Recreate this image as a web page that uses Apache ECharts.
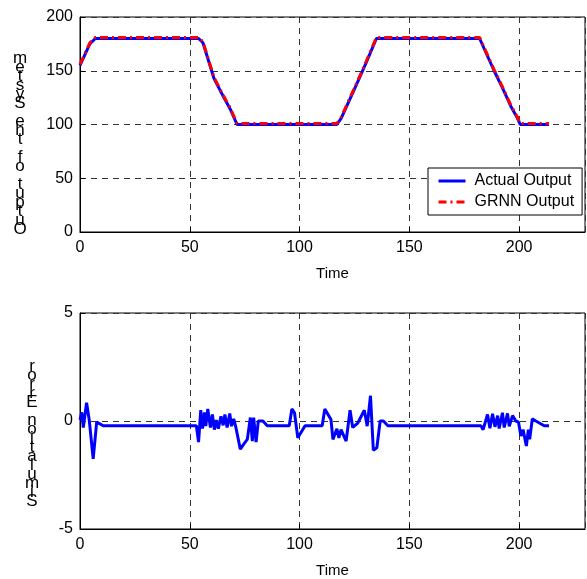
<!DOCTYPE html>
<html>
<head>
<meta charset="utf-8">
<script src="https://cdn.jsdelivr.net/npm/echarts@6/dist/echarts.min.js"></script>
<style>
  html, body { margin: 0; padding: 0; background: #fff; }
  #chart { width: 587px; height: 579px; }
</style>
</head>
<body>
<div id="chart"></div>
<script>
// Top panel: trapezoid trajectory, breakpoints
const outTime = [0, 4.5, 7, 54, 56, 61, 64, 68.5, 71.5, 117, 119, 125, 130, 135, 182, 188.6, 192.4, 196.2, 199.2, 200.5, 213.6];
const actualOut = [155, 175, 180, 180, 176, 143, 131, 114, 100, 100, 106, 133, 156, 180, 180, 150, 134, 117, 106, 100, 100];
const grnnOut = [156, 176, 181, 181, 177, 144, 132, 115, 101, 101, 107, 134, 157, 181, 181, 151, 135, 118, 107, 101, 101];

// Bottom panel: simulation error
const errTime = [
  0, 0.8, 1.5, 3, 4.2, 6, 7.6, 8.5, 10.6, 53,
  54, 55, 55.8, 56.7, 57.3, 58.2, 59.4, 60.3, 61.2, 62.1,
  63, 64.2, 65.2, 66, 67, 68.2, 69, 70, 71, 73,
  74.5, 76.2, 77.6, 78.5, 79.1, 80.2, 81.2, 83.3, 85.3, 95.3,
  96.5, 97.7, 99.2, 102.5, 110.3, 111.5, 114.3, 115.2, 117, 117.9,
  118.9, 121.2, 123, 124.2, 126.5, 128.5, 129.5, 130.8, 132.3, 133.6,
  135.2, 136.7, 138.2, 140.2, 182.6, 183.6, 185.6, 186.7, 187.9, 189,
  190.2, 190.9, 192.4, 193.2, 194.7, 195.5, 197, 198.5, 199.7, 200.8,
  201.8, 203.3, 204.2, 204.8, 206, 207.6, 211.4, 213.6
];
const errValue = [
  0.05, 0.4, -0.3, 0.85, 0.05, -1.75, -0.05, 0.0, -0.22, -0.22,
  -0.98, 0.5, -0.35, 0.4, -0.24, 0.56, -0.3, 0.3, -0.4, 0.04,
  -0.36, 0.22, -0.2, 0.3, -0.3, 0.35, -0.24, 0.1, -0.3, -1.3,
  -1.08, -0.85, 0.16, -0.93, 0.16, -0.98, 0.0, 0.0, -0.22, -0.22,
  0.56, 0.38, -0.78, -0.22, -0.22, 0.56, 0.07, -0.85, -0.36, -0.78,
  -0.4, -0.93, 0.5, -0.3, -0.1, 0.3, 0.5, -0.24, 1.17, -1.35,
  -1.24, 0.0, 0.0, -0.22, -0.22, -0.4, 0.3, -0.34, 0.33, -0.27,
  0.25, -0.35, 0.38, -0.3, 0.35, -0.24, 0.25, 0.0, -0.05, -0.7,
  -0.4, -1.16, -0.4, -0.85, 0.1, 0.0, -0.22, -0.22
];

const timeTicks = { min: 0, max: 230, interval: 50 };
const outTicks = { min: 0, max: 200, interval: 50 };
const errTicks = { min: -5, max: 5, interval: 5 };

const FONT = '"Liberation Sans", Arial, sans-serif';
const pairs = (xs, ys) => xs.map((x, i) => [x, ys[i]]);
const stack = (s) => s.split('').reverse().join('\n');

const gridLine = { show: true, lineStyle: { color: '#333', type: [6, 5], width: 1 } };
const xAxisBase = (gridIndex) => ({
  type: 'value', gridIndex, ...timeTicks,
  name: 'Time', nameLocation: 'middle', nameGap: 34,
  nameTextStyle: { color: '#000', fontSize: 15, fontFamily: FONT },
  axisLine: { show: true, onZero: false, lineStyle: { color: '#000' } },
  axisTick: { show: true, inside: true, length: 5, lineStyle: { color: '#000' } },
  axisLabel: { color: '#000', fontSize: 16, fontFamily: FONT, margin: 8, showMaxLabel: false },
  splitLine: gridLine,
});
const yAxisBase = (gridIndex, ticks) => ({
  type: 'value', gridIndex, ...ticks,
  axisLine: { show: true, onZero: false, lineStyle: { color: '#000' } },
  axisTick: { show: true, inside: true, length: 5, lineStyle: { color: '#000' } },
  axisLabel: { color: '#000', fontSize: 16, fontFamily: FONT, margin: 7 },
  splitLine: gridLine,
});

const chart = echarts.init(document.getElementById('chart'), null, { renderer: 'canvas' });
chart.setOption({
  animation: false,
  backgroundColor: '#fff',
  textStyle: { fontFamily: FONT },
  grid: [
    { left: 80, top: 17, width: 505, height: 215, show: true, borderColor: '#000', borderWidth: 1, backgroundColor: 'transparent' },
    { left: 80, top: 313, width: 505, height: 217, show: true, borderColor: '#000', borderWidth: 1, backgroundColor: 'transparent' },
  ],
  xAxis: [xAxisBase(0), xAxisBase(1)],
  yAxis: [yAxisBase(0, outTicks), yAxisBase(1, errTicks)],
  legend: {
    data: ['Actual Output', 'GRNN Output'],
    orient: 'vertical',
    left: 428, top: 168,
    backgroundColor: '#fff', borderColor: '#000', borderWidth: 1,
    padding: [5, 8, 5, 9],
    itemWidth: 27, itemHeight: 14, itemGap: 5,
    itemStyle: { opacity: 0 },
    lineStyle: { width: 3 },
    textStyle: { color: '#000', fontSize: 16, fontFamily: FONT, padding: [0, 0, 0, 4] },
  },
  graphic: [
    {
      type: 'text', x: 20, y: 144,
      style: { text: stack('Output of the System'), fontSize: 17, fontFamily: FONT, lineHeight: 9, fill: '#000', align: 'center', verticalAlign: 'middle' },
    },
    {
      type: 'text', x: 32, y: 434,
      style: { text: stack('Simulation Error'), fontSize: 17, fontFamily: FONT, lineHeight: 9, fill: '#000', align: 'center', verticalAlign: 'middle' },
    },
  ],
  series: [
    {
      name: 'Actual Output', type: 'line', xAxisIndex: 0, yAxisIndex: 0,
      data: pairs(outTime, actualOut), symbol: 'none',
      lineStyle: { color: '#0000ff', width: 3 }, itemStyle: { color: '#0000ff' },
    },
    {
      name: 'GRNN Output', type: 'line', xAxisIndex: 0, yAxisIndex: 0,
      data: pairs(outTime, grnnOut), symbol: 'none',
      lineStyle: { color: '#ff0000', width: 3, type: [8, 4, 2, 4] }, itemStyle: { color: '#ff0000' },
    },
    {
      name: 'Simulation Error', type: 'line', xAxisIndex: 1, yAxisIndex: 1,
      data: pairs(errTime, errValue), symbol: 'none',
      lineStyle: { color: '#0000ff', width: 3 }, itemStyle: { color: '#0000ff' },
    },
  ],
});
</script>
</body>
</html>
